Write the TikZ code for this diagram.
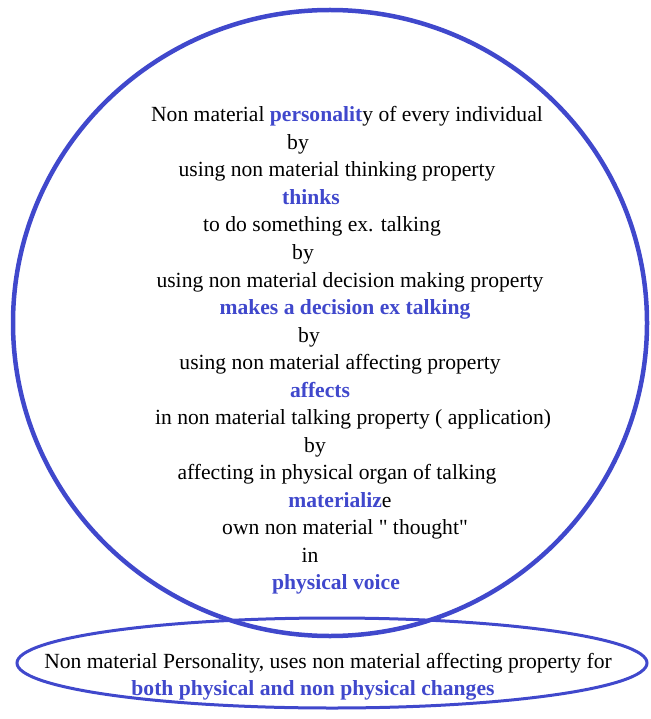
\documentclass[tikz,border=0pt]{standalone}
\usepackage{fontspec}
\setmainfont{Liberation Serif}[Ligatures=TeXOff]
\usepackage{xcolor}
\definecolor{ringblue}{RGB}{64,72,204}
\newcommand{\bluebf}[1]{\textcolor{ringblue}{\textbf{#1}}}

\begin{document}
\begin{tikzpicture}[x=1pt,y=-1pt,
    txt/.style={anchor=base,inner sep=0pt,font=\fontsize{21.6}{26}\selectfont},
    ring/.style={draw=ringblue}]
  \useasboundingbox (0,0) rectangle (650,719);
  \pgfmathsetmacro{\yfirst}{122}
  \pgfmathsetmacro{\dy}{27.5}

  \draw [ring,line width=4.5pt] (330,323) ellipse [x radius=317, y radius=313];
  \draw [ring,line width=3pt] (332,663) ellipse [x radius=315, y radius=45];

  \foreach \cx/\txt [count=\k] [evaluate=\k as \y using \yfirst+(\k-1)*\dy] in
    {347/{Non material \bluebf{personalit}y of every individual},
     298/{by},
     337/{using non material thinking property},
     311/{\bluebf{thinks}},
     322/{to do something ex. talking},
     303/{by},
     350/{using non material decision making property},
     345/{\bluebf{makes a decision ex talking}},
     309/{by},
     340/{using non material affecting property},
     320/{\bluebf{affects}},
     353/{in non material talking property ( application)},
     315/{by},
     337/{affecting in physical organ of talking},
     340/{\bluebf{materializ}e},
     345/{own non material " thought"},
     310/{in},
     336/{\bluebf{physical voice}}}
  {
    \node [txt] (line\k) at (\cx,\y) {\txt};
  }

  \node [txt] (note1) at (328,668) {Non material Personality, uses non material affecting property for};
  \node [txt] (note2) at (313,695) {\bluebf{both physical and non physical changes}};
\end{tikzpicture}
\end{document}
